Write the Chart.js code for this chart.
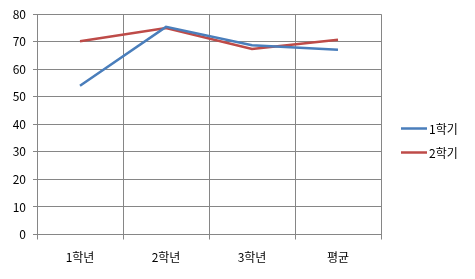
<!DOCTYPE html>
<html><head><meta charset="utf-8">
<script src="https://cdn.jsdelivr.net/npm/chart.js@4/dist/chart.umd.min.js"></script>
<style>html,body{margin:0;padding:0;background:#fff}#wrap{width:475px;height:279px;position:relative}</style>
</head><body><div id="wrap"><canvas id="c" width="475" height="279"></canvas></div>
<script>
const categories = ['1학년', '2학년', '3학년', '평균'];
const seriesNames = ['1학기', '2학기'];
const sem1 = [54, 75.4, 68.7, 67.1];
const sem2 = [70.2, 75, 67.4, 70.7];
const yTicks = [0, 10, 20, 30, 40, 50, 60, 70, 80];

const FONT = '"Noto Sans CJK KR", "Noto Sans", sans-serif';
const grid = '#868686';

const legendPlugin = {
  id: 'customLegend',
  afterDraw(chart) {
    const ctx = chart.ctx;
    const ys = [128.5, 152.5];
    chart.data.datasets.forEach((ds, i) => {
      ctx.save();
      ctx.strokeStyle = ds.borderColor;
      ctx.lineWidth = 2.5;
      ctx.beginPath();
      ctx.moveTo(401, ys[i]);
      ctx.lineTo(427, ys[i]);
      ctx.stroke();
      ctx.fillStyle = '#000';
      ctx.font = '12px ' + FONT;
      ctx.textBaseline = 'middle';
      ctx.textAlign = 'left';
      ctx.fillText(ds.label, 429, ys[i] + 1);
      ctx.restore();
    });
  }
};

new Chart(document.getElementById('c'), {
  type: 'line',
  data: {
    labels: categories,
    datasets: [
      { label: seriesNames[0], data: sem1, borderColor: '#4A7EBB', backgroundColor: '#4A7EBB', borderWidth: 2.5, pointRadius: 0, tension: 0 },
      { label: seriesNames[1], data: sem2, borderColor: '#BE4B48', backgroundColor: '#BE4B48', borderWidth: 2.5, pointRadius: 0, tension: 0 }
    ]
  },
  options: {
    responsive: false,
    animation: false,
    layout: { padding: { left: 0, right: 94, top: 12, bottom: 0 } },
    plugins: { legend: { display: false }, tooltip: { enabled: false } },
    scales: {
      x: {
        offset: true,
        grid: { offset: true, color: grid, lineWidth: 1, tickLength: 5, drawTicks: true },
        border: { color: grid, width: 1 },
        ticks: { color: '#000', font: { family: FONT, size: 12 }, padding: 11, maxRotation: 0 },
        afterFit(s) { s.height = 44.5; }
      },
      y: {
        min: 0, max: 80,
        afterBuildTicks(s) { s.ticks = yTicks.map(v => ({ value: v })); },
        grid: { color: grid, lineWidth: 1, tickLength: 4 },
        border: { color: grid, width: 1 },
        ticks: { color: '#000', font: { family: FONT, size: 12 }, padding: 7 },
        afterFit(s) { s.width = 37; }
      }
    }
  },
  plugins: [legendPlugin]
});
</script>
</body></html>
